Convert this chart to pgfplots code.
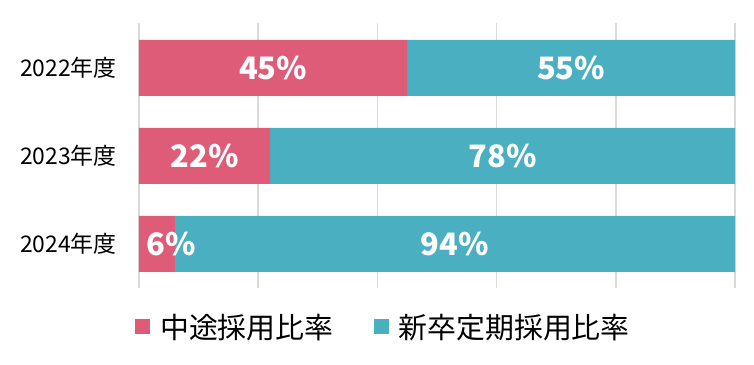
\documentclass[border=0pt]{standalone}
\usepackage{pgfplots}
\pgfplotsset{compat=1.18}
\usepackage{fontspec}
\setmainfont{Noto Sans CJK JP}
\usetikzlibrary{calc}
\definecolor{cpink}{HTML}{DF5C79}
\definecolor{cteal}{HTML}{4AAFC0}
\definecolor{cgrid}{HTML}{D9D9D9}
\begin{document}
\begin{tikzpicture}
\begin{axis}[
  name=ax,
  scale only axis,
  width=596bp, height=265bp,
  xbar stacked,
  bar width=56bp,
  xmin=0, xmax=100,
  ymin=-0.511, ymax=2.5,
  y dir=reverse,
  axis line style={draw=none},
  xtick={0,20,40,60,80,100},
  xticklabels={},
  xmajorgrids,
  grid style={cgrid, line width=1.6bp},
  ytick={0,1,2},
  yticklabels={2022年度,2023年度,2024年度},
  yticklabel style={font=\fontsize{23}{26}\selectfont, inner sep=0pt, xshift=-22bp},
  major tick length=0pt,
  tick style={draw=none},
  legend columns=2,
  legend style={draw=none, fill=none, inner sep=0pt, at={(-0.0067,-0.147)}, anchor=west,
    font=\fontsize{29}{32}\selectfont,
    nodes={inner sep=0pt},
    /tikz/every odd column/.append style={column sep=10bp},
    /tikz/every even column/.append style={column sep=40bp}},
  legend image code/.code={\fill[#1] (0bp,-7.5bp) rectangle (15bp,7.5bp);},
  legend cell align=left,
]
\addplot[fill=cpink, draw=none] coordinates {(45,0) (22,1) (6,2)};
\addplot[fill=cteal, draw=none] coordinates {(55,0) (78,1) (94,2)};
\legend{中途採用比率,新卒定期採用比率}
\coordinate (a1) at (axis cs:22.5,0);
\coordinate (a2) at (axis cs:72.5,0);
\coordinate (b1) at (axis cs:11,1);
\coordinate (b2) at (axis cs:61,1);
\coordinate (c1) at (axis cs:5.4,2);
\coordinate (c2) at (axis cs:53,2);
\end{axis}
\begin{scope}[every node/.style={text=white, font=\bfseries\fontsize{31}{34}\selectfont}]
\node at (a1) {45\%};
\node at (a2) {55\%};
\node at (b1) {22\%};
\node at (b2) {78\%};
\node at (c1) {6\%};
\node at (c2) {94\%};
\end{scope}
\pgfresetboundingbox
\path[use as bounding box] ($(ax.south west)+(-139bp,-77bp)$) rectangle ($(ax.north east)+(19bp,23bp)$);
\end{tikzpicture}
\end{document}
